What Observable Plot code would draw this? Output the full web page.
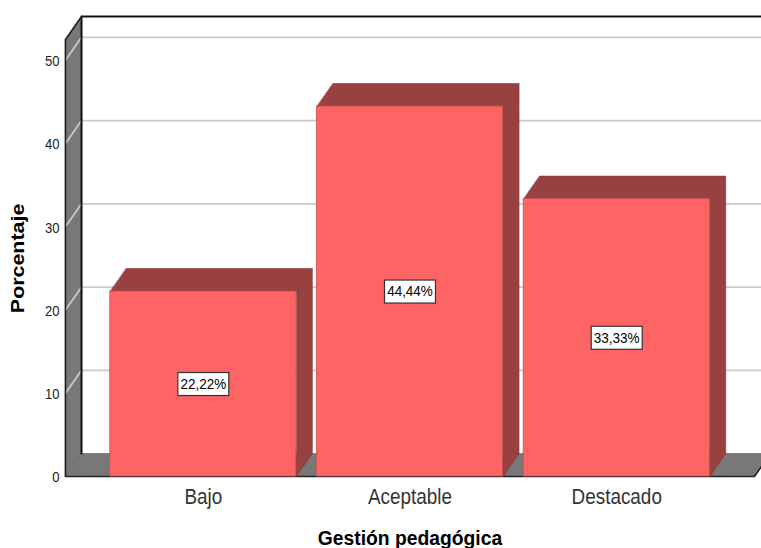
<!DOCTYPE html>
<html>
<head>
<meta charset="utf-8">
<script src="https://cdn.jsdelivr.net/npm/d3@7"></script>
<script src="https://cdn.jsdelivr.net/npm/@observablehq/plot@0.6"></script>
<style>
  html, body { margin: 0; padding: 0; background: #fff; overflow: hidden; }
  svg { display: block; }
</style>
</head>
<body>
<div id="chart"></div>
<script>
const categories = ["Bajo", "Aceptable", "Destacado"];
const percentages = [22.22, 44.44, 33.33];
const valueLabels = ["22,22%", "44,44%", "33,33%"];
const yTicks = [0, 10, 20, 30, 40, 50];

// Extent of the front plane of the box, in category-index and percent units
const xMin = -2 / 3, xMax = 8 / 3, yMax = 52.5;
// Oblique projection of the depth axis, in the same units
const depthX = 0.0775, depthY = 2.76;
const halfBar = 0.45;

const poly = (pts, id) => pts.map(([x, y]) => ({x, y, id}));

const leftWall = poly([[xMin, 0], [xMin + depthX, depthY], [xMin + depthX, yMax + depthY], [xMin, yMax]], "wall");
const floor = poly([[xMin, 0], [xMax, 0], [xMax + depthX, depthY], [xMin + depthX, depthY]], "floor");

const backGrid = yTicks.slice(1).flatMap(t => [
  {x: xMin, y: t, id: t},
  {x: xMin + depthX, y: t + depthY, id: t},
  {x: xMax + depthX, y: t + depthY, id: t}
]);

const fronts = percentages.map((v, i) => ({x1: i - halfBar, x2: i + halfBar, y1: 0, y2: v}));
const tops = percentages.flatMap((v, i) => poly([
  [i - halfBar, v], [i + halfBar, v],
  [i + halfBar + depthX, v + depthY], [i - halfBar + depthX, v + depthY]
], i));
const sides = percentages.flatMap((v, i) => poly([
  [i + halfBar, 0], [i + halfBar + depthX, depthY],
  [i + halfBar + depthX, v + depthY], [i + halfBar, v]
], i));
const labelData = percentages.map((v, i) => ({x: i, y: v / 2, text: valueLabels[i]}));

const polyOpts = {x: "x", y: "y", z: "id", curve: "linear-closed"};

// Anisotropic text scaling, applied around each label's own anchor
const stretched = (sx, sy = 1) => (index, scales, values, dims, context, next) => {
  const g = next(index, scales, values, dims, context);
  g.querySelectorAll("text").forEach(t => {
    t.setAttribute("transform", `${t.getAttribute("transform") || ""} scale(${sx},${sy})`);
  });
  return g;
};

// White outlined box behind every value label
const boxed = (w, h, sx) => (index, scales, values, dims, context, next) => {
  const g = stretched(sx)(index, scales, values, dims, context, next);
  g.querySelectorAll("text").forEach(t => {
    const m = t.getAttribute("transform").match(/translate\(([-\d.]+),([-\d.]+)\)/);
    const r = document.createElementNS("http://www.w3.org/2000/svg", "rect");
    r.setAttribute("x", +m[1] - w / 2);
    r.setAttribute("y", +m[2] - h / 2);
    r.setAttribute("width", w);
    r.setAttribute("height", h);
    r.setAttribute("fill", "#fff");
    r.setAttribute("stroke", "#333");
    r.setAttribute("stroke-width", 1.2);
    g.insertBefore(r, t);
  });
  return g;
};

const chart = Plot.plot({
  width: 761,
  height: 548,
  marginLeft: 65,
  marginRight: 7,
  marginTop: 39,
  marginBottom: 72,
  style: {background: "#fff", fontFamily: "'Liberation Sans', Arial, sans-serif", overflow: "hidden"},
  x: {type: "linear", domain: [xMin, xMax], axis: null},
  y: {type: "linear", domain: [0, yMax], axis: null},
  marks: [
    // Box: left wall and floor in grey, grid on the back plane and the wall
    Plot.line(leftWall, {...polyOpts, fill: "#787878", stroke: "#555", strokeWidth: 0.7}),
    Plot.line(floor, {...polyOpts, fill: "#787878", stroke: "#666", strokeWidth: 0.7}),
    Plot.line(backGrid, {x: "x", y: "y", z: "id", stroke: "#c9c9c9", strokeWidth: 1.8}),
    // Heavy edges of the box
    Plot.line([{x: xMin + depthX, y: depthY}, {x: xMin + depthX, y: yMax + depthY}, {x: xMax + depthX, y: yMax + depthY}],
      {x: "x", y: "y", stroke: "#111", strokeWidth: 2}),
    Plot.line([{x: xMin + depthX, y: yMax + depthY}, {x: xMin, y: yMax}, {x: xMin, y: 0}, {x: xMax, y: 0}, {x: xMax + depthX, y: depthY}],
      {x: "x", y: "y", stroke: "#222", strokeWidth: 1.6}),
    // Bars, side and top faces first
    Plot.line(sides, {...polyOpts, fill: "#994040", stroke: "#7d3535", strokeWidth: 0.6}),
    Plot.line(tops, {...polyOpts, fill: "#994040", stroke: "#7d3535", strokeWidth: 0.6}),
    Plot.rect(fronts, {x1: "x1", x2: "x2", y1: "y1", y2: "y2", fill: "#ff6464", stroke: "#c85050", strokeWidth: 0.8}),
    // Value labels in outlined boxes
    Plot.text(labelData, {x: "x", y: "y", text: "text", fontSize: 15, fill: "#000", render: boxed(51, 23, 0.9)}),
    // Axis texts
    Plot.text(yTicks, {x: xMin, y: d => d, text: d => String(d), dx: -6, dy: 1, textAnchor: "end", fontSize: 15, fill: "#222", render: stretched(0.87)}),
    Plot.text(categories, {x: (d, i) => i, y: 0, text: d => d, dy: 20, fontSize: 22, fill: "#333", fontWeight: 300, render: stretched(0.86)}),
    Plot.text(["Gestión pedagógica"], {x: 1, y: 0, dy: 62, fontSize: 19.3, fontWeight: "bold", fill: "#000"}),
    Plot.text(["Porcentaje"], {x: xMin, y: 26.2, dx: -47.5, rotate: -90, fontSize: 18, fontWeight: "bold", fill: "#000", render: stretched(1.19)})
  ]
});
document.getElementById("chart").append(chart);
</script>
</body>
</html>
